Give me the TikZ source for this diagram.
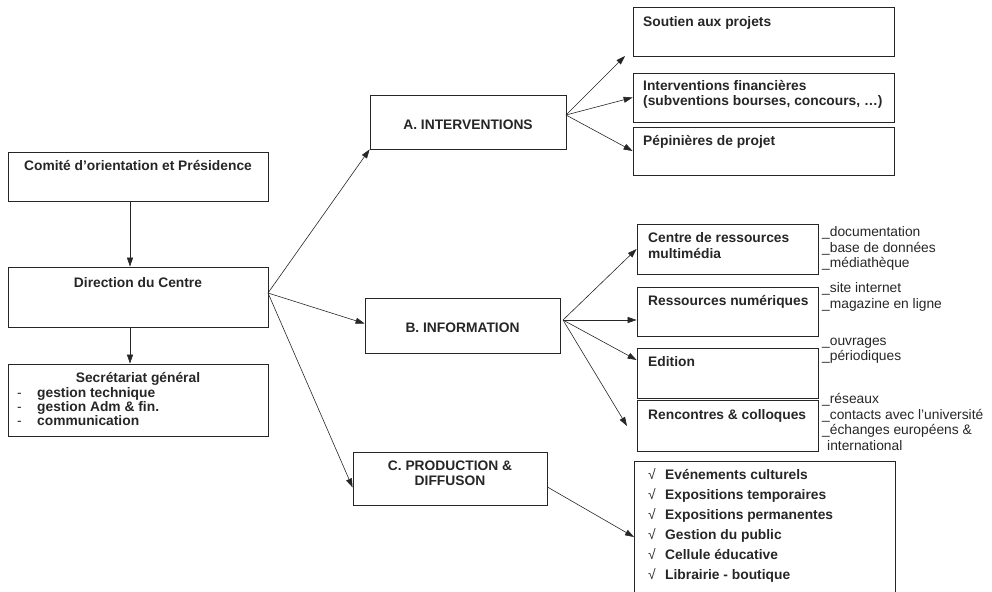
\documentclass[tikz,border=0pt]{standalone}
\usepackage{fontspec}
\setmainfont{Liberation Sans}
\usetikzlibrary{arrows.meta}
\definecolor{ink}{gray}{0.15}
\tikzset{
  box/.style={draw=ink, line width=0.8pt, inner sep=0pt},
  conn/.style={draw=ink, line width=0.6pt, -{Triangle[length=9pt,width=6pt]}},
  head/.style={font=\fontsize{13.8}{15}\selectfont\bfseries, text=ink, inner sep=0pt},
  note/.style={font=\fontsize{13.8}{15.5}\selectfont, text=ink, inner sep=0pt, align=left, anchor=north west},
}
\begin{document}
\begin{tikzpicture}[x=1pt,y=-1pt]
\useasboundingbox (0,0) rectangle (992,591);
% left column
\node[box, minimum width=260, minimum height=49] (comite) at (138,176.5) {};
\node[box, minimum width=260, minimum height=60] (dir) at (138,297) {};
\node[box, minimum width=260, minimum height=72] (secr) at (138,400) {};
\node[head, anchor=base] (comitetxt) at (138,170) {Comité d’orientation et Présidence};
\node[head, anchor=base] (dirtxt) at (138,287) {Direction du Centre};
\node[head, anchor=base] (secrtxt) at (138,382) {Secrétariat général};
\node[head, anchor=north west, align=left, font=\fontsize{13.8}{14}\selectfont\bfseries] (secrlist) at (17,387)
  {\makebox[20pt][l]{\mdseries -}gestion technique\\
   \makebox[20pt][l]{\mdseries -}gestion Adm \& fin.\\
   \makebox[20pt][l]{\mdseries -}communication};

% middle column
\node[box, minimum width=196, minimum height=54] (intA) at (468,122) {};
\node[box, minimum width=195, minimum height=55] (intB) at (462.5,325.5) {};
\node[box, minimum width=194, minimum height=53] (intC) at (450,478.5) {};
\node[head] (intAtxt) at (468,125) {A. INTERVENTIONS};
\node[head] (intBtxt) at (462.5,328) {B. INFORMATION};
\node[head, anchor=north, align=center] (intCtxt) at (450,460.5) {C. PRODUCTION \&\\ DIFFUSON};

% right column, A
\node[box, minimum width=261, minimum height=49] (sout) at (763.5,31.5) {};
\node[box, minimum width=261, minimum height=49] (fin) at (763.5,97.5) {};
\node[box, minimum width=261, minimum height=48] (pep) at (763.5,151) {};
\node[head, anchor=north west] (souttxt) at (643,16.5) {Soutien aux projets};
\node[head, anchor=north west, align=left] (fintxt) at (643,80.5) {Interventions financières\\(subventions bourses, concours, …)};
\node[head, anchor=north west] (peptxt) at (643,135.5) {Pépinières de projet};

% right column, B
\node[box, minimum width=181, minimum height=50] (cen) at (727.5,249) {};
\node[box, minimum width=181, minimum height=49] (res) at (727.5,311.5) {};
\node[box, minimum width=181, minimum height=50] (edi) at (727.5,373) {};
\node[box, minimum width=181, minimum height=51] (ren) at (727.5,425.5) {};
\node[head, anchor=north west, align=left, font=\fontsize{13.8}{16}\selectfont\bfseries] (centxt) at (648,232.5) {Centre de ressources\\multimédia};
\node[head, anchor=north west] (restxt) at (648,295.5) {Ressources numériques};
\node[head, anchor=north west] (editxt) at (648,356.5) {Edition};
\node[head, anchor=north west] (rentxt) at (648,409.5) {Rencontres \& colloques};
\node[note] (cennote) at (822,226.5) {\_documentation\\\_base de données\\\_médiathèque};
\node[note] (resnote) at (822,282.5) {\_site internet\\\_magazine en ligne};
\node[note] (edinote) at (822,337.5) {\_ouvrages\\\_périodiques};
\node[note] (rennote) at (822,393.5) {\_réseaux\\\_contacts avec l’université\\\_échanges européens \&\\\hspace*{5pt}international};

% right column, C
\node[box, minimum width=261, minimum height=150, anchor=north west] (chk) at (634,461) {};
\node[head, anchor=north west, align=left, font=\fontsize{13.8}{20}\selectfont\bfseries] (chktxt) at (648,468.5)
  {\makebox[17pt][l]{\mdseries √}Evénements culturels\\
   \makebox[17pt][l]{\mdseries √}Expositions temporaires\\
   \makebox[17pt][l]{\mdseries √}Expositions permanentes\\
   \makebox[17pt][l]{\mdseries √}Gestion du public\\
   \makebox[17pt][l]{\mdseries √}Cellule éducative\\
   \makebox[17pt][l]{\mdseries √}Librairie - boutique};

% connectors
\coordinate (dirout) at (268,293);
\coordinate (aout) at (566,115);
\coordinate (bout) at (563,320);
\coordinate (soutin) at (625,56);
\coordinate (renin) at (627,426);
\coordinate (chkin) at (634,537);
\draw[conn] ([xshift=-8pt]comite.south) -- ([xshift=-8pt]dir.north);
\draw[conn] ([xshift=-8pt]dir.south) -- ([xshift=-8pt]secr.north);
\draw[conn] (dirout) -- (intA.south west);
\draw[conn] (dirout) -- ([yshift=2pt]intB.west);
\draw[conn] (dirout) -- ([yshift=-9pt]intC.west);
\draw[conn] (aout) -- (soutin);
\draw[conn] (aout) -- (fin.west);
\draw[conn] (aout) -- (pep.west);
\draw[conn] (bout) -- (cen.west);
\draw[conn] (bout) -- ([yshift=-8.5pt]res.west);
\draw[conn] (bout) -- ([yshift=13pt]edi.west);
\draw[conn] (bout) -- (renin);
\draw[conn] ([yshift=-8.5pt]intC.east) -- (chkin);
\end{tikzpicture}
\end{document}
